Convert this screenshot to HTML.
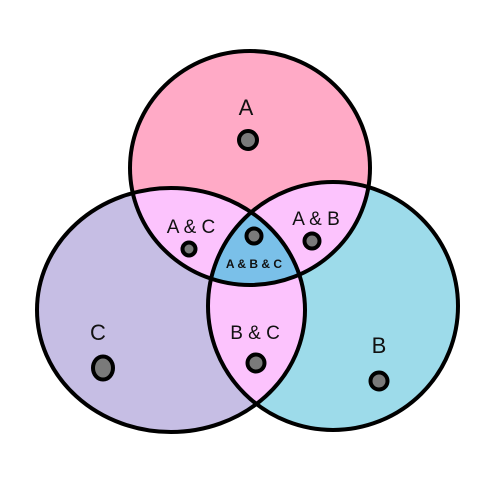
<!DOCTYPE html>
<html><head><style>
html,body{margin:0;padding:0;background:#fff;width:500px;height:500px;overflow:hidden}
text{font-family:"Liberation Sans","DejaVu Sans",sans-serif;fill:#111}
</style></head><body>
<svg width="500" height="500" viewBox="0 0 500 500">
<defs>
<clipPath id="cA"><ellipse cx="250" cy="168" rx="120" ry="117"/></clipPath>
<clipPath id="cB"><ellipse cx="333" cy="306" rx="125" ry="124"/></clipPath>
<clipPath id="cC"><ellipse cx="171" cy="310" rx="134" ry="122"/></clipPath>
</defs>
<ellipse cx="250" cy="168" rx="120" ry="117" fill="#ffaac6"/>
<ellipse cx="333" cy="306" rx="125" ry="124" fill="#9ddbea"/>
<ellipse cx="171" cy="310" rx="134" ry="122" fill="#c6bee4"/>
<g clip-path="url(#cA)"><ellipse cx="333" cy="306" rx="125" ry="124" fill="#fcc3fd"/></g>
<g clip-path="url(#cA)"><ellipse cx="171" cy="310" rx="134" ry="122" fill="#fcc3fd"/></g>
<g clip-path="url(#cB)"><ellipse cx="171" cy="310" rx="134" ry="122" fill="#fcc3fd"/></g>
<g clip-path="url(#cA)"><g clip-path="url(#cB)"><ellipse cx="171" cy="310" rx="134" ry="122" fill="#7ac0e9"/></g></g>
<g fill="none" stroke="#000" stroke-width="4">
<ellipse cx="250" cy="168" rx="120" ry="117"/>
<ellipse cx="333" cy="306" rx="125" ry="124"/>
<ellipse cx="171" cy="310" rx="134" ry="122"/>
</g>
<g fill="#7a7a7a" stroke="#000" stroke-width="4">
<circle cx="248" cy="140" r="9"/>
<circle cx="189" cy="249" r="6.5"/>
<circle cx="254" cy="236" r="7.5"/>
<circle cx="312" cy="241" r="7.5"/>
<circle cx="256" cy="363" r="8.5"/>
<ellipse cx="103" cy="368" rx="10" ry="11.5"/>
<circle cx="379" cy="381" r="8.5"/>
</g>
<text x="246" y="115" font-size="22" text-anchor="middle">A</text>
<text x="98" y="340" font-size="22" text-anchor="middle">C</text>
<text x="379" y="353" font-size="22" text-anchor="middle">B</text>
<text x="191" y="233" font-size="19" text-anchor="middle">A &amp; C</text>
<text x="316" y="225" font-size="19" text-anchor="middle">A &amp; B</text>
<text x="255" y="339" font-size="19" text-anchor="middle">B &amp; C</text>
<text x="254" y="268" font-size="12" font-weight="bold" text-anchor="middle">A &amp; B &amp; C</text>
</svg>
</body></html>
